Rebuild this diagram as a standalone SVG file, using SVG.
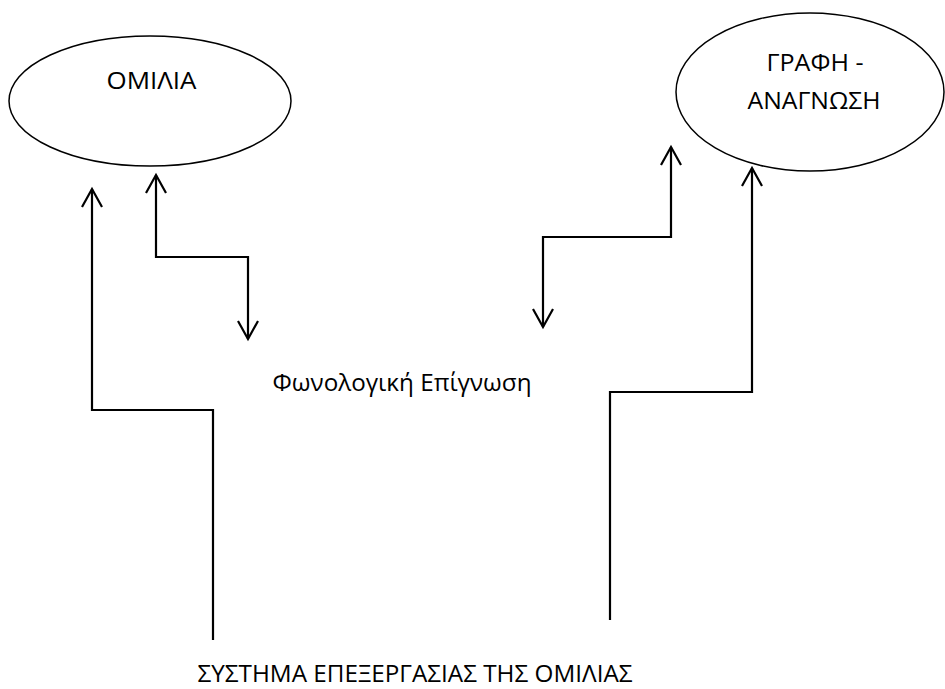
<svg xmlns="http://www.w3.org/2000/svg" width="945" height="689" viewBox="0 0 945 689">
<defs>
<style>
.node{fill:#fff;stroke:#000;stroke-width:1.5}
.lbl{font-family:"Open Sans","Noto Sans","DejaVu Sans",sans-serif;font-size:23px;fill:#000;text-anchor:middle}
.con{fill:none;stroke:#000;stroke-width:2.2;stroke-linejoin:miter}
</style>
<marker id="ah" viewBox="-20 -12 24 24" markerWidth="24" markerHeight="24" refX="0" refY="0" orient="auto" markerUnits="userSpaceOnUse">
<path d="M-18,-10 L0,0 L-18,10" fill="none" stroke="#000" stroke-width="2.2"/>
</marker>
</defs>
<rect width="945" height="689" fill="#fff"/>
<g id="omilia">
<ellipse class="node" cx="150" cy="101" rx="141" ry="65"/>
<text class="lbl" x="151.5" y="89" textLength="90" lengthAdjust="spacingAndGlyphs">ΟΜΙΛΙΑ</text>
</g>
<g id="grafi">
<ellipse class="node" cx="810" cy="92" rx="134" ry="79"/>
<text class="lbl" x="815" y="71" textLength="97" lengthAdjust="spacingAndGlyphs">ΓΡΑΦΗ -</text>
<text class="lbl" x="814" y="109" textLength="133" lengthAdjust="spacingAndGlyphs">ΑΝΑΓΝΩΣΗ</text>
</g>
<g id="fonologiki">
<text class="lbl" x="402" y="391" textLength="259" lengthAdjust="spacingAndGlyphs">Φωνολογική Επίγνωση</text>
</g>
<g id="systima">
<text class="lbl" x="415" y="682" textLength="435" lengthAdjust="spacingAndGlyphs">ΣΥΣΤΗΜΑ ΕΠΕΞΕΡΓΑΣΙΑΣ ΤΗΣ ΟΜΙΛΙΑΣ</text>
</g>
<g id="connectors">
<path class="con" d="M213,640 V410 H92 V189" marker-end="url(#ah)"/>
<path class="con" d="M156,175 V257 H248 V339" marker-end="url(#ah)"/>
<path class="con" d="M671,147 V237 H543 V327" marker-end="url(#ah)"/>
<path class="con" d="M610,620 V392 H752 V168" marker-end="url(#ah)"/>
<path class="con" d="M146,193 L156,175 L166,193"/>
<path class="con" d="M661,165 L671,147 L681,165"/>
</g>
</svg>
